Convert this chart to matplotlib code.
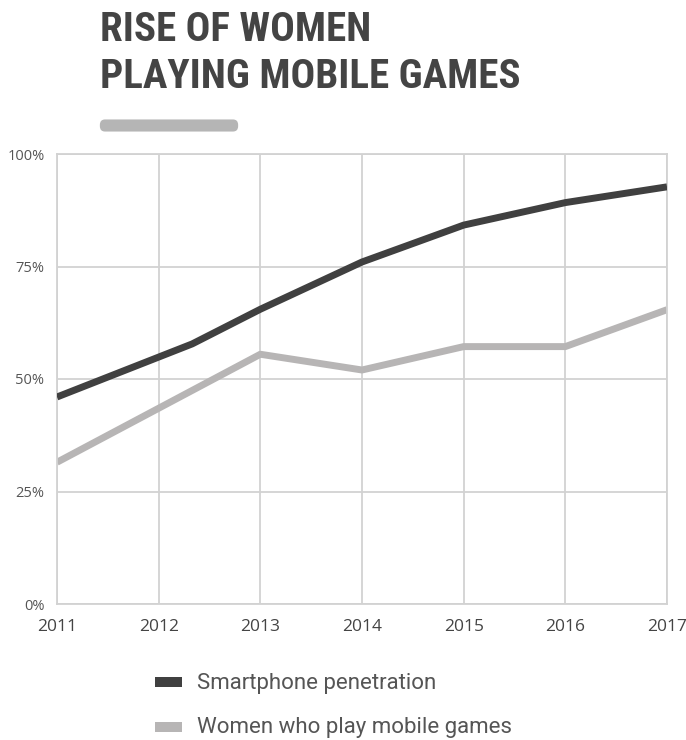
import matplotlib.pyplot as plt
from matplotlib.patches import FancyBboxPatch

# smartphone penetration (share of population)
phone_years = [2011, 2012.33, 2013, 2014, 2015, 2016, 2017]
phone_pct = [46, 57.8, 65.5, 76, 84.2, 89.2, 92.7]

# women who play mobile games
women_years = [2011, 2012, 2013, 2014, 2015, 2016, 2017]
women_pct = [31.5, 43.5, 55.5, 52, 57.2, 57.2, 65.4]

year_ticks = [2011, 2012, 2013, 2014, 2015, 2016, 2017]
pct_ticks = [0, 25, 50, 75, 100]

dark = '#404040'
light = '#b7b5b5'
grid = '#d2d2d2'

fig = plt.figure(figsize=(6.86, 7.40), dpi=100)
ax = fig.add_axes([57/686, 1-604/740, 610/686, 450/740])

ax.plot(phone_years, phone_pct, color=dark, lw=5, solid_capstyle='butt', zorder=3)
ax.plot(women_years, women_pct, color=light, lw=5, solid_capstyle='butt', zorder=2)

ax.set_xlim(2011, 2017)
ax.set_ylim(0, 100)
ax.set_xticks(year_ticks)
ax.set_xticklabels([str(y) for y in year_ticks], family=['Open Sans', 'DejaVu Sans'],
                   fontsize=12.5, color='#444444')
ax.set_yticks(pct_ticks)
ax.set_yticklabels([f'{p}%' for p in pct_ticks], family=['Open Sans', 'DejaVu Sans'],
                   fontsize=10.5, color='#555555')
ax.tick_params(axis='x', length=0, pad=11)
ax.tick_params(axis='y', length=0, pad=9)
ax.grid(True, color=grid, lw=1.3)
ax.set_axisbelow(True)
for s in ax.spines.values():
    s.set_color(grid)
    s.set_linewidth(1.3)

# title block
title_font = ['Roboto Condensed', 'Liberation Sans Narrow', 'Roboto', 'DejaVu Sans']
fig.text(100/686, 1-41/740, 'RISE OF WOMEN', family=title_font, weight='bold',
         fontsize=29.5, color='#444444', va='baseline')
fig.text(100/686, 1-88/740, 'PLAYING MOBILE GAMES', family=title_font, weight='bold',
         fontsize=29.5, color='#444444', va='baseline')
bar = FancyBboxPatch((105/686, 1-126/740), 128/686, 1/740,
                     boxstyle='round,pad=0.0075', transform=fig.transFigure,
                     fc='#b5b5b5', ec='none')
fig.patches.append(bar)

# legend
legend_items = [('Smartphone penetration', dark, 682), ('Women who play mobile games', light, 727)]
for label, col, yc in legend_items:
    fig.patches.append(plt.Rectangle((155/686, 1-(yc+5)/740), 27/686, 10/740,
                                     transform=fig.transFigure, fc=col, ec='none'))
    fig.text(197/686, 1-(yc+1)/740, label, family=['Roboto', 'DejaVu Sans'],
             fontsize=16, color='#555555', va='center')

fig.savefig('out.png', dpi=100)
